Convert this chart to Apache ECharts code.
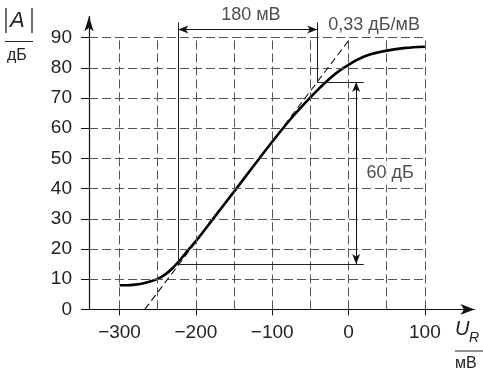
<!DOCTYPE html>
<html>
<head>
<meta charset="utf-8">
<script src="https://cdn.jsdelivr.net/npm/echarts@6/dist/echarts.min.js"></script>
<style>
html,body{margin:0;padding:0;background:#fff;}
#chart{width:483px;height:371px;}
</style>
</head>
<body>
<div id="chart"></div>
<script>
// ---- data ----
const curveX = [-300,-290,-280,-270,-260,-250,-240,-230,-220,-210,-200,-175,-150,-125,-100,-75,-50,-40,-25,-10,0,10,25,50,75,100];
const curveY = [8,8,8.2,8.6,9.2,10.1,11.6,13.8,16.6,19.7,22.6,30.8,39,47.3,55.5,63.3,70.2,72.8,76.4,79.4,81,82.5,84.2,85.7,86.6,87];
const xTicks = [-300,-200,-100,0,100];
const yTicks = [0,10,20,30,40,50,60,70,80,90];
const gridX = [-300,-250,-200,-150,-100,-50,0,50,100];
const gridY = [10,20,30,40,50,60,70,80,90];
const tangentStart = [-267,0];
const tangentEnd = [3,90];
const spanLeft = -223, spanRight = -41, spanArrowY = 92.7, spanTop = 95;
const levelLow = 15, levelHigh = 75.3, levelRight = 20, levelArrowX = 10;
const annotations = [
  [-128, 97.4, '180 мВ'],
  [33.5, 94.2, '0,33 дБ/мВ'],
  [54.5, 45.2, '60 дБ']
];

const X_MIN = -340, X_MAX = 165, Y_MIN = 0, Y_MAX = 97;
const FONT = 'Liberation Sans';
const minus = v => v < 0 ? '\u2212' + Math.abs(v) : String(v);

const gridLines = gridX.map(x => [{coord:[x,0]},{coord:[x,90]}])
  .concat(gridY.map(y => [{coord:[X_MIN,y]},{coord:[100,y]}]));
const plain = (a,b) => [{coord:a},{coord:b}];
const dimLines = [
  plain([spanLeft,levelLow],[spanLeft,spanTop]),
  plain([spanRight,levelHigh],[spanRight,spanTop]),
  plain([spanLeft,levelLow],[levelRight,levelLow]),
  plain([spanRight,levelHigh],[levelRight,levelHigh])
];
const arrowLines = [
  plain([spanLeft,spanArrowY],[spanRight,spanArrowY]),
  plain([levelArrowX,levelLow],[levelArrowX,levelHigh])
];

const chart = echarts.init(document.getElementById('chart'), null, {renderer:'canvas'});
chart.setOption({
  animation:false,
  backgroundColor:'#fff',
  grid:{left:89, top:16.5, width:385.5, height:292.9},
  xAxis:{
    type:'value', min:X_MIN, max:X_MAX,
    axisLine:{show:true, onZero:false, symbol:['none','arrow'], symbolSize:[8,14], lineStyle:{color:'#111', width:1.2}},
    axisTick:{show:true, customValues:xTicks, length:6, inside:false, lineStyle:{color:'#111'}},
    axisLabel:{show:true, customValues:xTicks, formatter:minus, margin:14, color:'#222', fontSize:19, fontFamily:FONT},
    splitLine:{show:false}
  },
  yAxis:{
    type:'value', min:Y_MIN, max:Y_MAX,
    axisLine:{show:true, onZero:false, symbol:['none','arrow'], symbolSize:[7,15], lineStyle:{color:'#111', width:1.2}},
    axisTick:{show:true, customValues:yTicks, length:8, inside:false, lineStyle:{color:'#111'}},
    axisLabel:{show:true, customValues:yTicks, margin:17, color:'#222', fontSize:19, fontFamily:FONT},
    splitLine:{show:false}
  },
  series:[
    {type:'line', data:[], silent:true,
      markLine:{silent:true, symbol:['none','none'], animation:false, label:{show:false},
        lineStyle:{color:'#555', width:1, type:[9,4]}, data:gridLines}},
    {type:'line', data:[], silent:true,
      markLine:{silent:true, symbol:['none','none'], animation:false, label:{show:false},
        lineStyle:{color:'#111', width:1.1, type:[7,4]}, data:[plain(tangentStart,tangentEnd)]}},
    {type:'line', data:[], silent:true,
      markLine:{silent:true, symbol:['none','none'], animation:false, label:{show:false},
        lineStyle:{color:'#222', width:1, type:'solid'}, data:dimLines}},
    {type:'line', data:[], silent:true,
      markLine:{silent:true, symbol:['arrow','arrow'], symbolSize:[6,10], animation:false, label:{show:false},
        lineStyle:{color:'#111', width:1, type:'solid'}, data:arrowLines}},
    {type:'line', smooth:0.3, showSymbol:false, symbol:'none',
      data:curveX.map((x,i)=>[x,curveY[i]]), lineStyle:{color:'#000', width:2.6}},
    {type:'scatter', symbolSize:0, clip:false, silent:true,
      data:annotations.map((a,i)=>({value:[a[0],a[1]], name:a[2],
        label: i===2 ? {backgroundColor:'#fff', padding:[3,3]} : {}})),
      label:{show:true, position:'inside', formatter:p=>p.name, color:'#222', fontSize:18, fontFamily:FONT},
      z:5}
  ],
  graphic:[
    {type:'line', shape:{x1:6,y1:8,x2:6,y2:33}, style:{stroke:'#222', lineWidth:1.3}},
    {type:'line', shape:{x1:32,y1:8,x2:32,y2:33}, style:{stroke:'#222', lineWidth:1.3}},
    {type:'text', left:10, top:10, style:{text:'A', font:'italic 22px "Liberation Sans"', fill:'#222'}},
    {type:'line', shape:{x1:5,y1:41.5,x2:33,y2:41.5}, style:{stroke:'#222', lineWidth:1}},
    {type:'text', left:7, top:48, style:{text:'дБ', font:'16px "Liberation Sans"', fill:'#222'}},
    {type:'text', left:455, top:319, style:{text:'U', font:'italic 20px "Liberation Sans"', fill:'#222'}},
    {type:'text', left:469, top:331, style:{text:'R', font:'italic 14px "Liberation Sans"', fill:'#222'}},
    {type:'line', shape:{x1:455,y1:351,x2:483,y2:351}, style:{stroke:'#222', lineWidth:1}},
    {type:'text', left:455, top:356, style:{text:'мВ', font:'16px "Liberation Sans"', fill:'#222'}}
  ]
});
</script>
</body>
</html>
